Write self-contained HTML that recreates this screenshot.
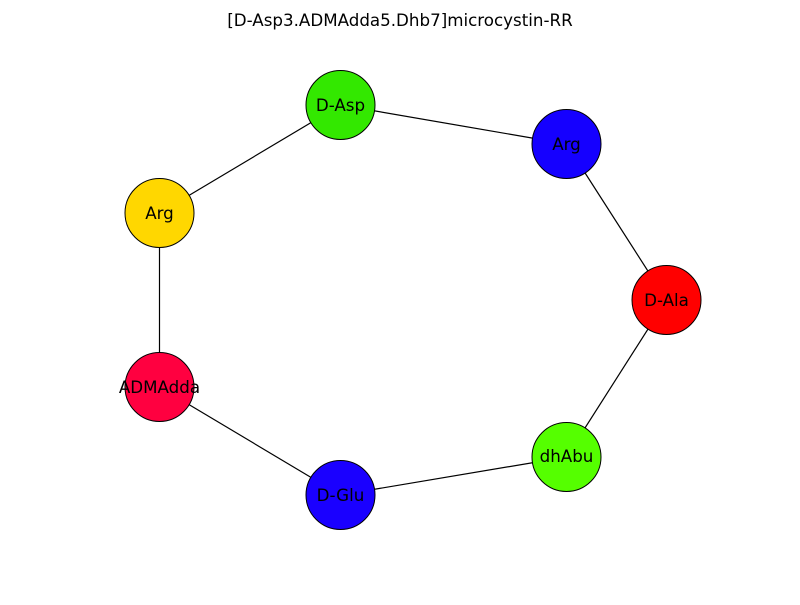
<!DOCTYPE html>
<html><head><meta charset="utf-8"><style>html,body{margin:0;padding:0;background:#fff}</style></head>
<body>
<svg width="800" height="600" xmlns="http://www.w3.org/2000/svg" font-family="DejaVu Sans, Liberation Sans, sans-serif">
<rect width="800" height="600" fill="#fff"/>
<text x="400" y="26" font-size="16.7" text-anchor="middle">[D-Asp3.ADMAdda5.Dhb7]microcystin-RR</text>
<g transform="translate(0.5,1)">
<g stroke="#000" stroke-width="1.2">
<line x1="340" y1="104" x2="566" y2="143"/>
<line x1="566" y1="143" x2="666" y2="299"/>
<line x1="666" y1="299" x2="566" y2="456"/>
<line x1="566" y1="456" x2="340" y2="494"/>
<line x1="340" y1="494" x2="159" y2="386"/>
<line x1="159" y1="386" x2="159" y2="212"/>
<line x1="159" y1="212" x2="340" y2="104"/>
</g>
<g stroke="#000" stroke-width="1">
<circle cx="340" cy="104" r="34.5" fill="#33e800"/>
<circle cx="566" cy="143" r="34.5" fill="#1500ff"/>
<circle cx="666" cy="299" r="34.5" fill="#ff0000"/>
<circle cx="566" cy="456" r="34.5" fill="#55ff00"/>
<circle cx="340" cy="494" r="34.5" fill="#1a00ff"/>
<circle cx="159" cy="386" r="34.5" fill="#ff0040"/>
<circle cx="159" cy="212" r="34.5" fill="#ffd700"/>
</g>
<g font-size="16.7" text-anchor="middle" fill="#000">
<text x="340" y="110">D-Asp</text>
<text x="566" y="149">Arg</text>
<text x="666" y="305">D-Ala</text>
<text x="566" y="461">dhAbu</text>
<text x="340" y="500">D-Glu</text>
<text x="159" y="392">ADMAdda</text>
<text x="159" y="218">Arg</text>
</g>
</g>
</svg>
</body></html>
